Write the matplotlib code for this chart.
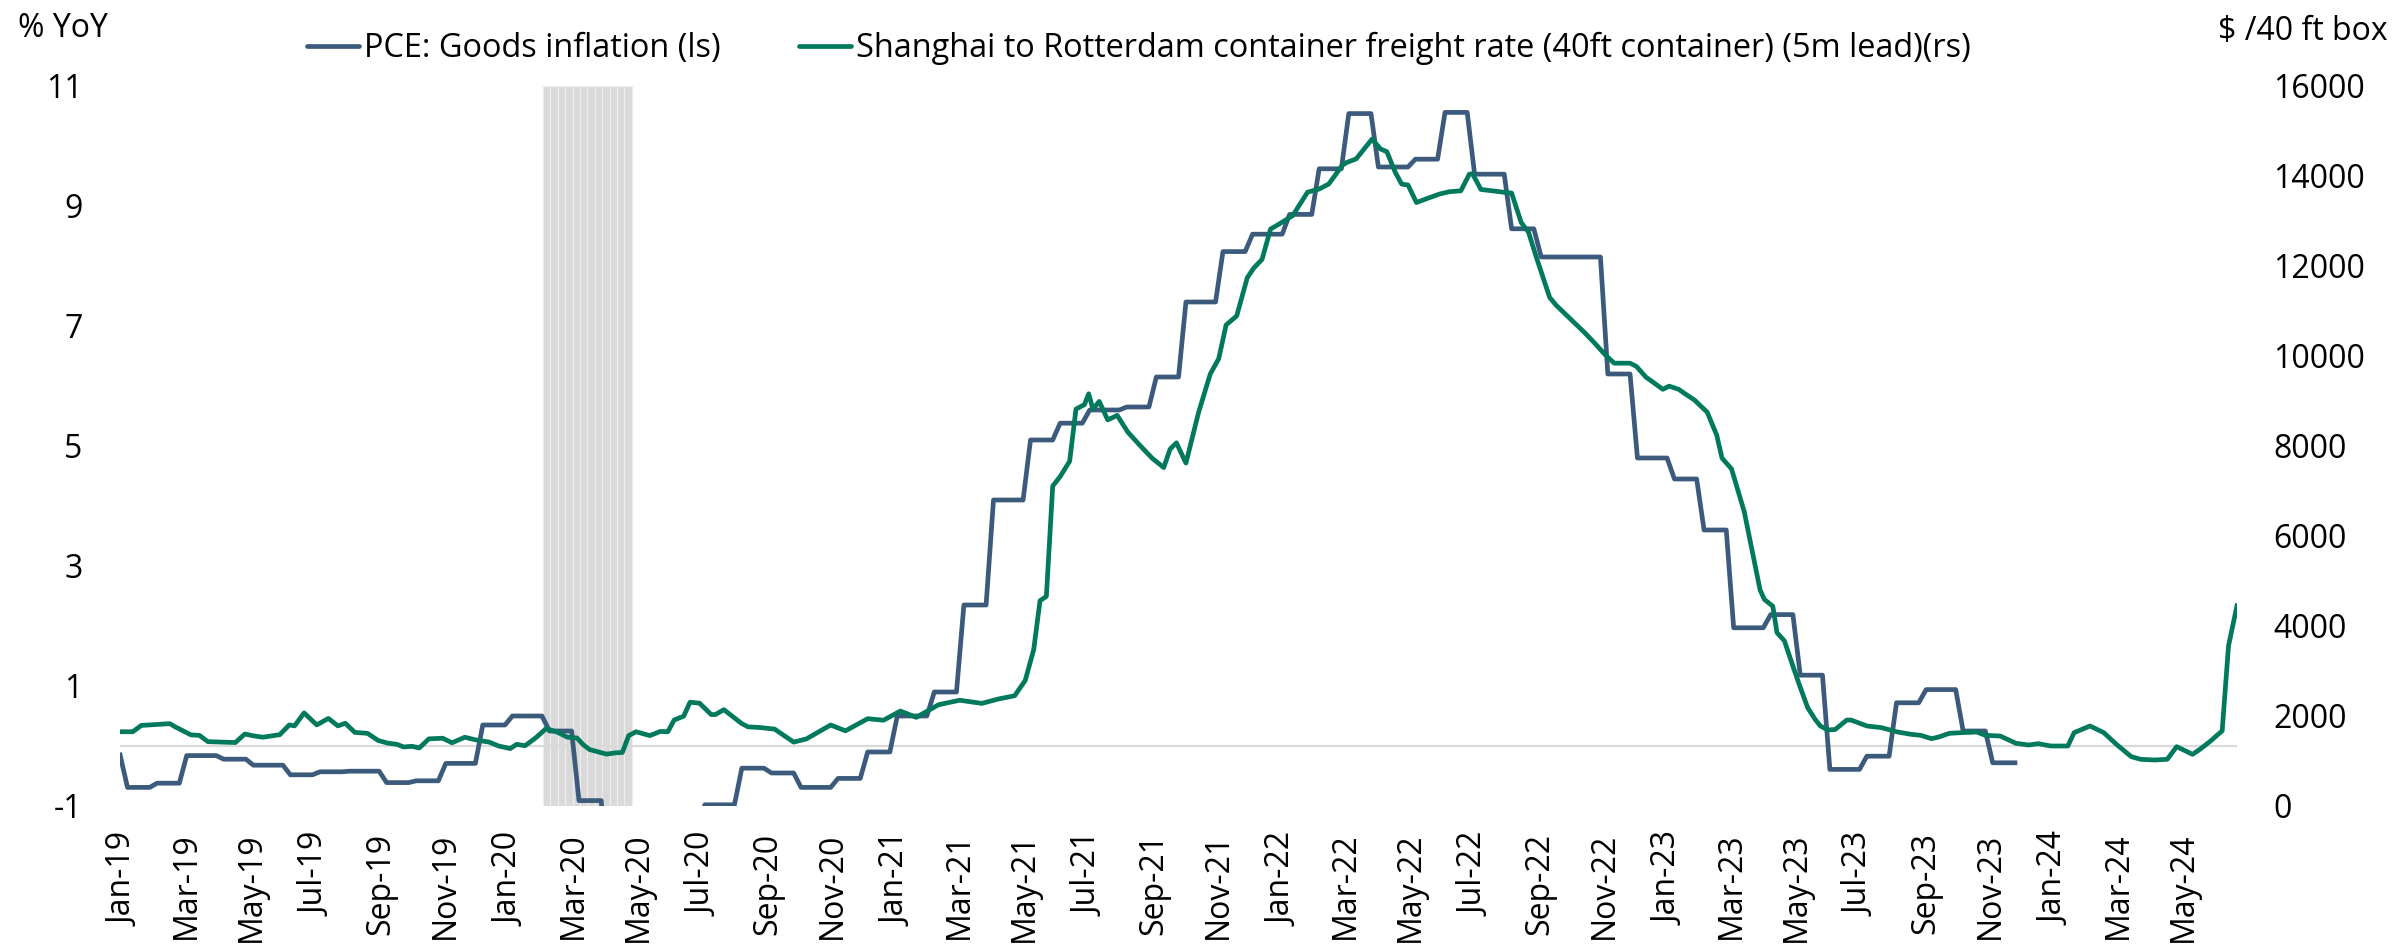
import numpy as np
import pandas as pd
import matplotlib
matplotlib.use("Agg")
import matplotlib.pyplot as plt
import matplotlib.dates as mdates

plt.rcParams['font.family'] = ['Open Sans', 'DejaVu Sans']
plt.rcParams['axes.unicode_minus'] = False

# PCE goods inflation, % YoY, monthly Dec-18 .. Nov-23 (shown weekly as steps)
pce_first_month = "2018-12"
pce_goods = [-0.15,
             -0.69, -0.62, -0.16, -0.22, -0.32, -0.48, -0.43, -0.42, -0.61, -0.58, -0.29, 0.35,
             0.50, 0.25, -0.91, -2.60, -2.40, -1.60, -0.98, -0.37, -0.45, -0.69, -0.54, -0.10,
             0.50, 0.90, 2.35, 4.10, 5.10, 5.38, 5.60, 5.65, 6.15, 7.40, 8.24, 8.53,
             8.86, 9.62, 10.54, 9.65, 9.78, 10.56, 9.53, 8.62, 8.15, 8.15, 6.20, 4.80,
             4.45, 3.60, 1.97, 2.19, 1.18, -0.39, -0.17, 0.72, 0.94, 0.25, -0.28]

# Shanghai -> Rotterdam freight rate, $/40ft box (5m lead)
freight_dates = [
    "2018-12-28", "2019-01-09", "2019-01-17", "2019-02-13", "2019-02-18", "2019-03-05",
    "2019-03-13", "2019-03-21", "2019-04-16", "2019-04-25", "2019-05-02", "2019-05-12",
    "2019-05-28", "2019-06-06", "2019-06-11", "2019-06-20", "2019-07-02", "2019-07-13",
    "2019-07-22", "2019-07-29", "2019-08-07", "2019-08-19", "2019-08-29", "2019-09-07",
    "2019-09-16", "2019-09-22", "2019-09-30", "2019-10-07", "2019-10-16", "2019-10-29",
    "2019-11-07", "2019-11-19", "2019-11-29", "2019-12-12", "2019-12-21", "2020-01-01",
    "2020-01-07", "2020-01-15", "2020-01-25", "2020-02-04", "2020-02-15", "2020-02-24",
    "2020-03-04", "2020-03-10", "2020-03-16", "2020-04-01", "2020-04-10", "2020-04-16",
    "2020-04-22", "2020-04-29", "2020-05-12", "2020-05-22", "2020-05-29", "2020-06-04",
    "2020-06-13", "2020-06-19", "2020-06-28", "2020-07-09", "2020-07-13", "2020-07-21",
    "2020-08-07", "2020-08-13", "2020-08-24", "2020-09-07", "2020-09-25", "2020-10-07",
    "2020-10-30", "2020-11-13", "2020-12-04", "2020-12-19", "2021-01-04", "2021-01-19",
    "2021-02-09", "2021-03-01", "2021-03-22", "2021-04-07", "2021-04-22", "2021-05-02",
    "2021-05-10", "2021-05-16", "2021-05-22", "2021-05-28", "2021-06-04", "2021-06-13",
    "2021-06-19", "2021-06-27", "2021-07-01", "2021-07-05", "2021-07-11", "2021-07-19",
    "2021-07-28", "2021-08-07", "2021-08-19", "2021-08-30", "2021-09-10", "2021-09-16",
    "2021-09-22", "2021-10-01", "2021-10-13", "2021-10-24", "2021-11-01", "2021-11-08",
    "2021-11-18", "2021-11-28", "2021-12-04", "2021-12-12", "2021-12-20", "2021-12-28",
    "2022-01-10", "2022-01-24", "2022-02-04", "2022-02-13", "2022-02-26", "2022-03-02",
    "2022-03-11", "2022-03-26", "2022-04-03", "2022-04-09", "2022-04-17", "2022-04-23",
    "2022-04-29", "2022-05-07", "2022-05-16", "2022-05-29", "2022-06-07", "2022-06-18",
    "2022-06-26", "2022-06-29", "2022-07-07", "2022-07-18", "2022-07-28", "2022-08-05",
    "2022-08-14", "2022-08-21", "2022-08-29", "2022-09-10", "2022-09-16", "2022-10-01",
    "2022-10-13", "2022-10-22", "2022-11-01", "2022-11-10", "2022-11-25", "2022-12-01",
    "2022-12-10", "2022-12-16", "2022-12-26", "2023-01-01", "2023-01-10", "2023-01-16",
    "2023-01-25", "2023-02-06", "2023-02-15", "2023-02-20", "2023-03-01", "2023-03-13",
    "2023-03-22", "2023-03-28", "2023-04-01", "2023-04-09", "2023-04-13", "2023-04-20",
    "2023-04-28", "2023-05-04", "2023-05-12", "2023-05-19", "2023-05-24", "2023-05-31",
    "2023-06-07", "2023-06-18", "2023-06-22", "2023-07-07", "2023-07-21", "2023-08-05",
    "2023-08-18", "2023-08-27", "2023-09-06", "2023-09-13", "2023-09-23", "2023-10-05",
    "2023-10-19", "2023-10-27", "2023-11-10", "2023-11-25", "2023-12-07", "2023-12-16",
    "2023-12-28", "2024-01-13", "2024-01-19", "2024-02-03", "2024-02-16", "2024-02-28",
    "2024-03-13", "2024-03-22", "2024-04-04", "2024-04-16", "2024-04-25", "2024-05-10",
    "2024-05-17", "2024-05-27", "2024-06-07", "2024-06-13", "2024-06-21"]
freight_rate = [
    1650, 1650, 1790, 1830, 1760, 1580,
    1570, 1430, 1410, 1600, 1564, 1528,
    1585, 1802, 1780, 2068, 1802, 1946,
    1780, 1838, 1636, 1614, 1456, 1398,
    1370, 1312, 1326, 1290, 1492, 1506,
    1405, 1528, 1470, 1420, 1333, 1276,
    1370, 1340, 1513, 1722, 1636, 1528,
    1513, 1362, 1254, 1153, 1182, 1189,
    1564, 1650, 1564, 1657, 1650, 1910,
    1996, 2306, 2285, 2032, 2032, 2140,
    1830, 1758, 1744, 1708, 1420, 1490,
    1800, 1670, 1940, 1906, 2110, 1970,
    2250, 2350, 2280, 2380, 2450, 2790,
    3470, 4560, 4660, 7110, 7320, 7660,
    8820, 8920, 9160, 8820, 8990, 8580,
    8680, 8310, 8000, 7730, 7520, 7930,
    8070, 7620, 8750, 9600, 9940, 10690,
    10890, 11740, 11950, 12150, 12820, 12930,
    13120, 13640, 13710, 13820, 14240, 14300,
    14380, 14820, 14600, 14540, 14080, 13820,
    13800, 13410, 13490, 13600, 13650, 13670,
    14040, 14050, 13700, 13670, 13640, 13620,
    12970, 12750, 12150, 11300, 11130, 10790,
    10520, 10300, 10040, 9840, 9840, 9770,
    9530, 9430, 9260, 9330, 9260, 9160,
    9020, 8750, 8240, 7730, 7490, 6540,
    5500, 4800, 4590, 4440, 3850, 3670,
    3110, 2700, 2185, 1926, 1778, 1690,
    1700, 1910, 1910, 1778, 1740, 1644,
    1592, 1570, 1496, 1533, 1615, 1630,
    1644, 1570, 1555, 1393, 1355, 1385,
    1333, 1333, 1630, 1778, 1630, 1370,
    1096, 1037, 1022, 1037, 1318, 1148,
    1260, 1444, 1670, 3560, 4450]

recession_start = "2020-02-01"
recession_end = "2020-05-01"

first_week = "2018-12-28"
last_week = "2024-06-21"

blue = "#3c5b7c"
green = "#00795c"

weeks = pd.date_range(first_week, last_week, freq="W-FRI")
months = pd.period_range(pce_first_month, periods=len(pce_goods), freq="M")
pce_monthly = pd.Series(pce_goods, index=months)
pce_weekly = pce_monthly.reindex(weeks.to_period("M")).values

fdates = pd.to_datetime(freight_dates)

fig = plt.figure(figsize=(24.02, 9.47), dpi=100)
ax = fig.add_axes([0.05, 0.1489, 0.8813, 0.7603])
ax2 = ax.twinx()

# recession shading, drawn as weekly columns
rec = pd.date_range(recession_start, recession_end, freq="7D")[:-1]
ax.bar(rec, [12] * len(rec), bottom=-1, width=7, align="edge",
       color="#d9d9d9", edgecolor="#eeeeee", linewidth=0.8, zorder=0)

ax.axhline(0, color="#d9d9d9", lw=1.6, zorder=1)
l1, = ax.plot(weeks, pce_weekly, color=blue, lw=3.4, zorder=3,
              label="PCE: Goods inflation (ls)")
l2, = ax2.plot(fdates, freight_rate, color=green, lw=3.4, zorder=3,
               label="Shanghai to Rotterdam container freight rate (40ft container) (5m lead)(rs)")

ax.set_xlim(weeks[0], weeks[-1])
ax.set_ylim(-1, 11)
ax.set_yticks(range(-1, 12, 2))
ax2.set_ylim(0, 16000)
ax2.set_yticks(range(0, 16001, 2000))

ax.xaxis.set_major_locator(mdates.MonthLocator(bymonth=[1, 3, 5, 7, 9, 11]))
ax.xaxis.set_major_formatter(mdates.DateFormatter("%b-%y"))
ax.tick_params(axis="x", rotation=90, length=0, pad=19, labelsize=23)
ax.tick_params(axis="y", length=0, pad=27, labelsize=23)
ax2.tick_params(axis="y", length=0, pad=26, labelsize=23)

for a in (ax, ax2):
    for s in a.spines.values():
        s.set_visible(False)

fig.text(0.0075, 0.970, "% YoY", fontsize=23, va="center", ha="left")
fig.text(0.994, 0.967, "$ /40 ft box", fontsize=23, va="center", ha="right")

leg = fig.legend(handles=[l1, l2], loc="center", bbox_to_anchor=(0.4742, 0.949),
                 ncol=2, frameon=False, fontsize=23.4, handlelength=1.6,
                 handletextpad=0.15, columnspacing=2.4)
for h in leg.get_lines():
    h.set_solid_capstyle("round")

fig.savefig("out.png", dpi=100)
